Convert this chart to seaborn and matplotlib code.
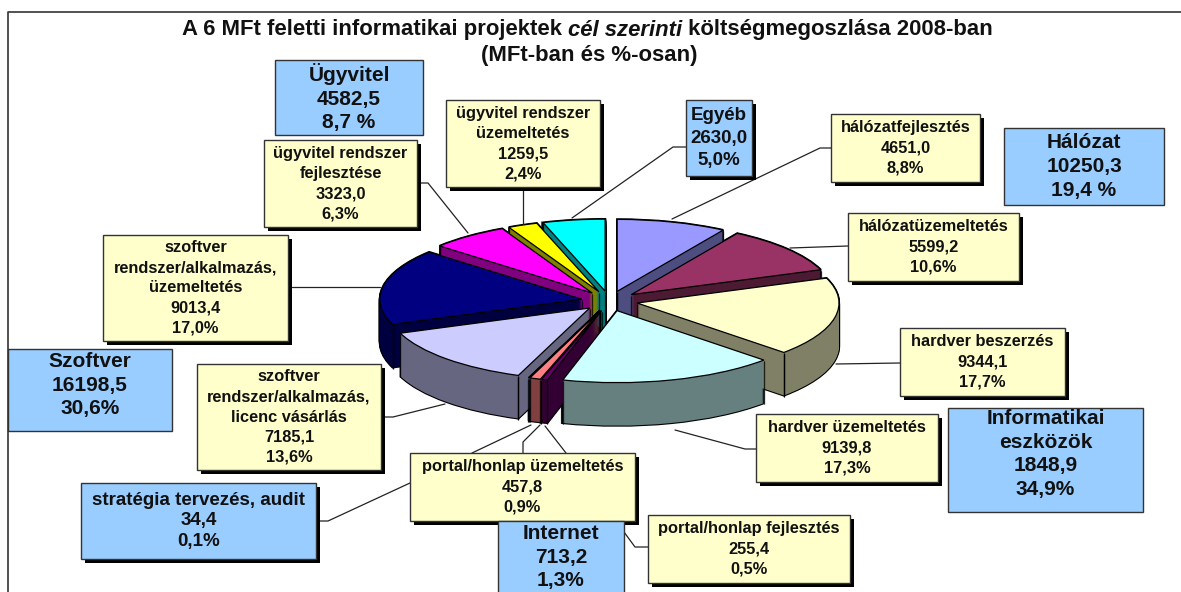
#!/usr/bin/env python3

import numpy as np
import matplotlib
matplotlib.use('Agg')
import matplotlib.pyplot as plt
from matplotlib.patches import Rectangle
import seaborn as sns

sns.set_theme(style="white")
plt.rcParams['font.family'] = ['Liberation Sans', 'DejaVu Sans']

# slices, clockwise from the top
slice_names = ['hálózatfejlesztés', 'hálózatüzemeltetés', 'hardver beszerzés', 'hardver üzemeltetés',
               'portal/honlap fejlesztés', 'portal/honlap üzemeltetés', 'stratégia tervezés, audit',
               'szoftver\nrendszer/alkalmazás,\nlicenc vásárlás', 'szoftver\nrendszer/alkalmazás,\nüzemeltetés',
               'ügyvitel rendszer\nfejlesztése', 'ügyvitel rendszer\nüzemeltetés', 'Egyéb']
slice_values = [4651.0, 5599.2, 9344.1, 9139.8, 255.4, 457.8, 34.4, 7185.1, 9013.4, 3323.0, 1259.5, 2630.0]
slice_pcts = ['8,8%', '10,6%', '17,7%', '17,3%', '0,5%', '0,9%', '0,1%', '13,6%', '17,0%', '6,3%', '2,4%', '5,0%']

group_names = ['Ügyvitel', 'Hálózat', 'Szoftver', 'Informatikai\neszközök', 'Internet']
group_values = [4582.5, 10250.3, 16198.5, 1848.9, 713.2]
group_pcts = ['8,7 %', '19,4 %', '30,6%', '34,9%', '1,3%']

top_colors = ['#9999FF', '#993366', '#FFFFCC', '#CCFFFF', '#660066', '#FF8080',
              '#0066CC', '#CCCCFF', '#000080', '#FF00FF', '#FFFF00', '#00FFFF']

# pie placement in pixels
W, H = 1181, 592
PIE_X, PIE_Y, RX, RY = 609.5, 301, 202, 72
DEPTH = 43 / RY
EXPLODE = 0.139
N_LAYERS = 44

# box layout in pixels: x0, y0, x1, y1
slice_boxes = [(831, 114, 980, 182), (848, 213, 1019, 281), (900, 328, 1065, 396), (756, 414, 938, 482),
               (648, 515, 850, 583), (410, 453, 635, 521), (81, 483, 316, 559),
               (197, 364, 381, 470), (103, 235, 288, 341),
               (264, 140, 417, 227), (446, 100, 600, 187), (686, 100, 752, 176)]
group_boxes = [(275, 60, 423, 135), (1004, 128, 1164, 205), (8, 349, 172, 431), (948, 408, 1143, 512), (498, 521, 624, 593)]
# text sits a little high in these two boxes
group_text_shift = [0, 0, -5, -6, 0]

connectors = [[(831, 148), (820, 148), (672, 219)],
              [(848, 246), (790, 248)],
              [(900, 363), (836, 364)],
              [(756, 449), (745, 449), (675, 430)],
              [(648, 547), (635, 547), (624, 532)],
              [(472, 453), (531, 425)],
              [(523, 453), (523, 442), (540, 425)],
              [(566, 453), (545, 426)],
              [(316, 521), (328, 521), (410, 483)],
              [(381, 417), (393, 417), (445, 404)],
              [(292, 287), (380, 287)],
              [(417, 183), (428, 183), (468, 233)],
              [(523, 190), (523, 224)],
              [(686, 147), (673, 147), (572, 218)]]


def fmt(v):
    return f'{v:.1f}'.replace('.', ',')


fig = plt.figure(figsize=(W / 100, H / 100), dpi=100)

# pie axes: squashed so one unit is RX wide and RY tall
ax_pie = fig.add_axes([0, 0, 1, 1])
palette = sns.color_palette(top_colors)
side_colors = [tuple(np.array(c) * 0.5) for c in palette]
explode = [EXPLODE] * len(slice_values)
layers = np.linspace(DEPTH, 0, N_LAYERS)

# black silhouette first, it leaves a thin outline around the solid
for off in layers:
    ax_pie.pie(slice_values, explode=explode, startangle=90, counterclock=False, center=(0, -off),
               colors=['black'] * len(slice_values), wedgeprops={'edgecolor': 'black', 'linewidth': 1.6, 'zorder': 1})

# walls from the bottom up, corner lines get covered by the higher layers
z = 2
step = DEPTH / (N_LAYERS - 1)
for off in layers[:-1]:
    wedges, _ = ax_pie.pie(slice_values, explode=explode, startangle=90, counterclock=False, center=(0, -off),
                           colors=side_colors, wedgeprops={'linewidth': 0, 'zorder': z})
    for w in wedges:
        cx, cy = w.center
        xs = [cx, cx + w.r * np.cos(np.radians(w.theta1)), cx + w.r * np.cos(np.radians(w.theta2))]
        ys = [cy, cy + w.r * np.sin(np.radians(w.theta1)), cy + w.r * np.sin(np.radians(w.theta2))]
        for x, y in zip(xs, ys):
            ax_pie.plot([x, x], [y, y - step * 1.2], color='black', lw=0.9, zorder=z + 0.5, solid_capstyle='butt')
    z += 1

ax_pie.pie(slice_values, explode=explode, startangle=90, counterclock=False,
           colors=palette, wedgeprops={'edgecolor': 'black', 'linewidth': 0.9, 'zorder': z})
ax_pie.set_aspect('auto')
ax_pie.set_xlim((0 - PIE_X) / RX, (W - PIE_X) / RX)
ax_pie.set_ylim((PIE_Y - H) / RY, PIE_Y / RY)
ax_pie.axis('off')

# annotation axes in pixel coordinates
ax = fig.add_axes([0, 0, 1, 1], zorder=5)
ax.set_xlim(0, W)
ax.set_ylim(H, 0)
ax.axis('off')
ax.patch.set_alpha(0)

ax.plot([8, 8, W], [H, 12, 12], color='#333333', lw=1.2, zorder=1)

for pts in connectors:
    ax.plot([p[0] for p in pts], [p[1] for p in pts], color='#222222', lw=0.9, zorder=2)


def add_box(box, label, face, size, shadow, spacing, z, shift=0):
    x0, y0, x1, y1 = box
    if shadow:
        ax.add_patch(Rectangle((x0 + 4, y0 + 4), x1 - x0, y1 - y0, fc='black', ec='none', zorder=z))
    ax.add_patch(Rectangle((x0, y0), x1 - x0, y1 - y0, fc=face, ec='#333333', lw=1.0, zorder=z + 0.1))
    ax.text((x0 + x1) / 2, (y0 + y1) / 2 + shift, label, ha='center', va='center', ma='center',
            fontsize=size, fontweight='bold', color='#111111', linespacing=spacing, zorder=z + 0.2)


for i in range(len(slice_names)):
    label = slice_names[i] + '\n' + fmt(slice_values[i]) + '\n' + slice_pcts[i]
    if slice_names[i] == 'stratégia tervezés, audit':
        add_box(slice_boxes[i], label, '#99CCFF', 13.5, True, 1.3, 3)
    elif slice_names[i] == 'Egyéb':
        add_box(slice_boxes[i], label, '#99CCFF', 13.5, True, 1.43, 3)
    else:
        add_box(slice_boxes[i], label, '#FFFFCC', 11.8, True, 1.42, 3)

for i in range(len(group_names)):
    label = group_names[i] + '\n' + fmt(group_values[i]) + '\n' + group_pcts[i]
    add_box(group_boxes[i], label, '#99CCFF', 15, False, 1.31, 4, group_text_shift[i])

# title, the middle part is italic
t1 = ax.text(182, 30, 'A 6 MFt feletti informatikai projektek ', fontsize=15.9, fontweight='bold',
             va='center', ha='left', color='#111111')
t2 = ax.annotate('cél szerinti', xy=(1, 0.5), xycoords=t1, va='center', ha='left', fontsize=15.9,
                 fontweight='bold', fontstyle='italic', color='#111111')
t3 = ax.annotate(' költségmegoszlása 2008-ban', xy=(1, 0.5), xycoords=t2, va='center', ha='left',
                 fontsize=15.9, fontweight='bold', color='#111111')
ax.text(589, 56, '(MFt-ban és %-osan)', fontsize=15.9, fontweight='bold', va='center', ha='center', color='#111111')

fig.savefig('out.png', dpi=100)
